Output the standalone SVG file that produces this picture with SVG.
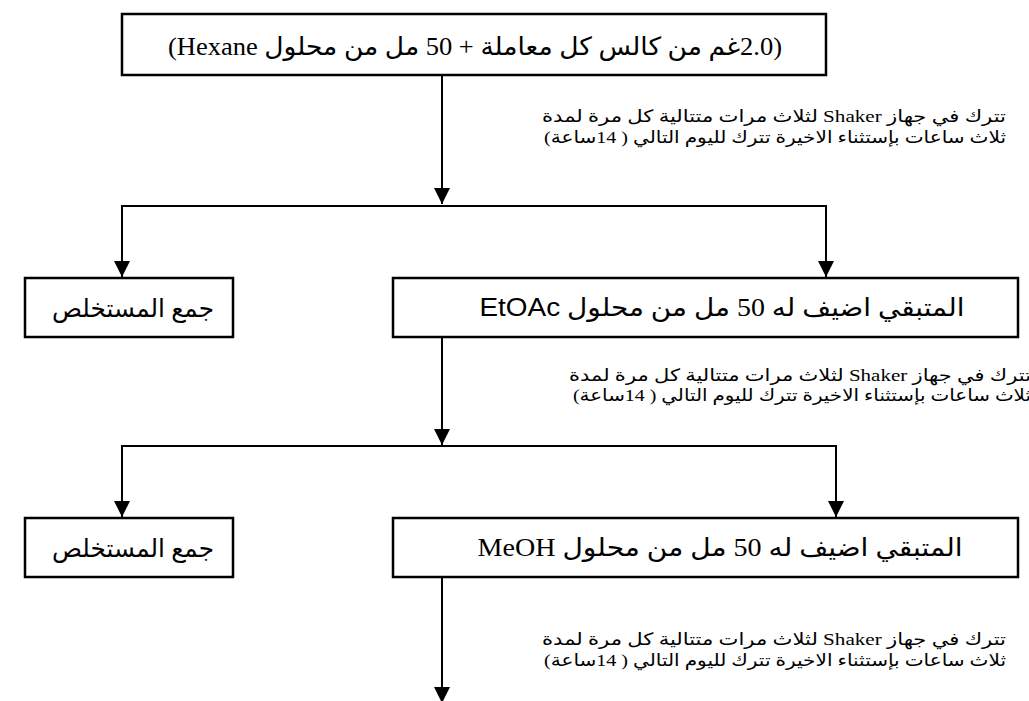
<svg xmlns="http://www.w3.org/2000/svg" width="1029" height="701" viewBox="0 0 1029 701">
<defs>
<marker id="ah" markerUnits="userSpaceOnUse" markerWidth="16" markerHeight="17" refX="8" refY="16" orient="0" viewBox="0 0 16 17">
<path d="M0,0 L16,0 L8,16 Z" fill="#000"/>
</marker>
</defs>
<style>
.box{fill:#fff;stroke:#000;stroke-width:2.5}
.ln{fill:none;stroke:#000;stroke-width:2}
.bt{font-family:"Liberation Serif","DejaVu Sans",serif;font-size:25px;fill:#000;direction:rtl;unicode-bidi:embed;text-anchor:middle}
.an{font-family:"Liberation Serif","DejaVu Sans",serif;font-size:17px;fill:#000;direction:rtl;unicode-bidi:embed;text-anchor:middle}
</style>
<rect width="1029" height="701" fill="#fff"/>
<g id="connectors">
<line class="ln" x1="442" y1="75" x2="442" y2="204" marker-end="url(#ah)"/>
<polyline class="ln" points="122,270 122,206 826,206 826,270"/>
<line class="ln" x1="122" y1="260" x2="122" y2="277" marker-end="url(#ah)"/>
<line class="ln" x1="826" y1="260" x2="826" y2="277" marker-end="url(#ah)"/>
<line class="ln" x1="442" y1="337" x2="442" y2="445" marker-end="url(#ah)"/>
<polyline class="ln" points="122,510 122,446 836,446 836,510"/>
<line class="ln" x1="122" y1="500" x2="122" y2="517" marker-end="url(#ah)"/>
<line class="ln" x1="836" y1="500" x2="836" y2="517" marker-end="url(#ah)"/>
<line class="ln" x1="442" y1="577" x2="442" y2="703" marker-end="url(#ah)"/>
</g>
<g id="n-start">
<rect class="box" x="122" y="14" width="704" height="61"/>
<text class="bt" x="475" y="55" font-size="26" textLength="614" lengthAdjust="spacingAndGlyphs">(2.0غم من كالس كل معاملة + 50 مل من محلول Hexane)</text>
</g>
<g id="label-1">
<text class="an" x="774" y="122" textLength="464" lengthAdjust="spacingAndGlyphs">تترك في جهاز Shaker لثلاث مرات متتالية كل مرة لمدة</text>
<text class="an" x="775" y="143" textLength="462" lengthAdjust="spacingAndGlyphs">ثلاث ساعات بإستثناء الاخيرة تترك لليوم التالي ( 14ساعة)</text>
</g>
<g id="n-extract-1">
<rect class="box" x="25" y="278" width="208" height="59"/>
<text class="bt" x="133" y="317" textLength="162" lengthAdjust="spacingAndGlyphs">جمع المستخلص</text>
</g>
<g id="n-etoac">
<rect class="box" x="393" y="278" width="625" height="59"/>
<text class="bt" x="722" y="316" textLength="485" lengthAdjust="spacingAndGlyphs">المتبقي اضيف له 50 مل من محلول <tspan font-family="Liberation Sans, sans-serif">EtOAc</tspan></text>
</g>
<g id="label-2">
<text class="an" x="800" y="381" textLength="462" lengthAdjust="spacingAndGlyphs">تترك في جهاز Shaker لثلاث مرات متتالية كل مرة لمدة</text>
<text class="an" x="802" y="401" textLength="458" lengthAdjust="spacingAndGlyphs">ثلاث ساعات بإستثناء الاخيرة تترك لليوم التالي ( 14ساعة)</text>
</g>
<g id="n-extract-2">
<rect class="box" x="25" y="518" width="208" height="59"/>
<text class="bt" x="133" y="557" textLength="162" lengthAdjust="spacingAndGlyphs">جمع المستخلص</text>
</g>
<g id="n-meoh">
<rect class="box" x="393" y="518" width="625" height="59"/>
<text class="bt" x="720" y="556" textLength="485" lengthAdjust="spacingAndGlyphs">المتبقي اضيف له 50 مل من محلول MeOH</text>
</g>
<g id="label-3">
<text class="an" x="774" y="645" textLength="464" lengthAdjust="spacingAndGlyphs">تترك في جهاز Shaker لثلاث مرات متتالية كل مرة لمدة</text>
<text class="an" x="775" y="666" textLength="462" lengthAdjust="spacingAndGlyphs">ثلاث ساعات بإستثناء الاخيرة تترك لليوم التالي ( 14ساعة)</text>
</g>
</svg>
